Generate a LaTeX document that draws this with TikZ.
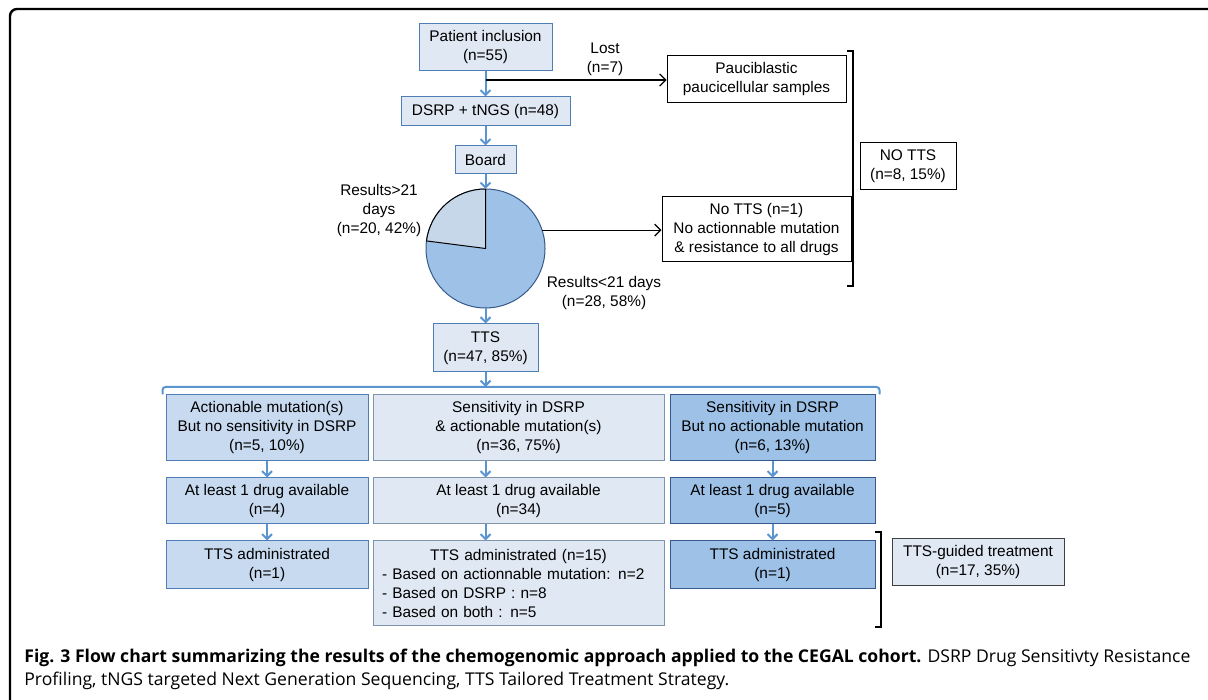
\documentclass[tikz,border=0pt]{standalone}
\usepackage{fontspec}
\setmainfont{Liberation Sans}
\newfontfamily\capfont{Open Sans}
\usepackage{tikz}
\usetikzlibrary{shapes,positioning,arrows.meta}
\usepackage{xcolor}
\definecolor{boxlight}{HTML}{DFE8F3}
\definecolor{boxmid}{HTML}{C8DAF0}
\definecolor{boxdark}{HTML}{9EC2E7}
\definecolor{edgeblue}{HTML}{4F7DB5}
\definecolor{edgegray}{HTML}{7F93AD}
\definecolor{edgedark}{HTML}{35598A}
\definecolor{arrowblue}{HTML}{5B95D0}
\definecolor{pielight}{HTML}{C6D7EA}

\begin{document}
\begin{tikzpicture}[x=0.5pt,y=0.5pt]
    \tikzstyle{box} = [draw=edgeblue,fill=boxlight,rectangle,align=center,inner sep=1pt,line width=0.5pt,font=\fontsize{7.7pt}{9.5pt}\selectfont]
    \tikzstyle{plainbox} = [box,draw=black,fill=white]
    \tikzstyle{mylabel} = [align=center,inner sep=0pt,font=\fontsize{7.7pt}{9.5pt}\selectfont]
    \tikzstyle{flow} = [draw=arrowblue,line width=1pt,-{Straight Barb[length=2.5pt,width=5pt]}]
    \tikzstyle{side} = [draw=black,line width=0.6pt,-{Straight Barb[length=3pt,width=6pt]}]
    \tikzstyle{bracket} = [draw=black,line width=1pt]
    \useasboundingbox (0,0) rectangle (1208,700);
    \draw[line width=1.2pt,rounded corners=3.5pt] (10,-5) -- (10,691) -- (1215,691);
    % main column
    \node[box,minimum width=66.5pt,minimum height=23.5pt] (incl) at (485.5,652.5) {Patient inclusion\\(n=55)};
    \node[box,minimum width=84.5pt,minimum height=14.5pt] (dsrp) at (485.5,588.5) {DSRP + tNGS (n=48)};
    \node[box,minimum width=30.5pt,minimum height=14pt] (board) at (485.5,540) {Board};
    \node[circle,draw=edgedark,fill=boxdark,line width=0.5pt,minimum size=59.5pt,inner sep=0pt,outer sep=0pt] (pie) at (485.5,451.5) {};
    \filldraw[fill=pielight,draw=black,line width=0.5pt] (pie.center) -- (pie.north) arc[start angle=90,end angle=172.7,radius=59.5] -- cycle;
    \node[box,minimum width=52.5pt,minimum height=24pt] (tts) at (485.5,352) {TTS\\(n=47, 85\%)};
    \node[mylabel] (lost) at (605,641) {Lost\\(n=7)};
    \node[mylabel] (slow) at (379,489) {Results>21\\days\\(n=20, 42\%)};
    \node[mylabel] (fast) at (604,407) {Results<21 days\\(n=28, 58\%)};
    % no TTS side
    \node[plainbox,minimum width=89.5pt,minimum height=23.5pt] (pauci) at (756.5,620.5) {Pauciblastic\\paucicellular samples};
    \node[plainbox,minimum width=94.5pt,minimum height=32.5pt] (nott) at (756.5,470.5) {No TTS (n=1)\\No actionnable mutation\\\& resistance to all drugs};
    \node[plainbox,minimum width=48pt,minimum height=23.5pt] (notts) at (908,533.5) {NO TTS\\(n=8, 15\%)};
    % three groups
    \node[box,fill=boxmid,minimum width=101pt,minimum height=33pt] (act) at (267,272) {Actionable mutation(s)\\But no sensitivity in DSRP\\(n=5, 10\%)};
    \node[box,draw=edgegray,minimum width=145.5pt,minimum height=33pt] (both) [right = 2pt of act] {Sensitivity in DSRP\\\& actionable mutation(s)\\(n=36, 75\%)};
    \node[box,fill=boxdark,draw=edgedark,minimum width=102.5pt,minimum height=33pt] (sens) [right = 2.5pt of both] {Sensitivity in DSRP\\But no actionable mutation\\(n=6, 13\%)};
    \node[box,fill=boxmid,minimum width=101pt,minimum height=23pt] (act2) [below = 8pt of act] {At least 1 drug available\\(n=4)};
    \node[box,draw=edgegray,minimum width=145.5pt,minimum height=23pt] (both2) [below = 8pt of both] {At least 1 drug available\\(n=34)};
    \node[box,fill=boxdark,draw=edgedark,minimum width=102.5pt,minimum height=23pt] (sens2) [below = 8pt of sens] {At least 1 drug available\\(n=5)};
    \node[box,fill=boxmid,minimum width=101pt,minimum height=24pt] (act3) [below = 8pt of act2] {TTS administrated\\(n=1)};
    \node[box,draw=edgegray,minimum width=145.5pt,minimum height=42.5pt,text width=136.5pt,align=left] (both3) [below = 8pt of both2] {\hfill TTS administrated (n=15)\hfill\null\\- Based on actionnable mutation: n=2\\- Based on DSRP : n=8\\- Based on both : n=5};
    \node[box,fill=boxdark,draw=edgedark,minimum width=102.5pt,minimum height=24pt] (sens3) [below = 8pt of sens2] {TTS administrated\\(n=1)};
    \node[box,draw=black!75,minimum width=86pt,minimum height=23.5pt] (guided) at (978,137.5) {TTS-guided treatment\\(n=17, 35\%)};
    % connectors
    \coordinate (split) at (485.5,620);
    \coordinate (fork) at (485.5,313);
    \draw[flow] (incl) -- (dsrp);
    \draw[side] (split) -- (split -| pauci.west);
    \draw[flow] (dsrp) -- (board);
    \draw[flow] (board) -- (pie);
    \draw[side] (pie.18) -- (pie.18 -| nott.west);
    \draw[flow] (pie) -- (tts);
    \draw[flow] (tts) -- (fork);
    \draw[draw=arrowblue,line width=1pt,rounded corners=1.5pt] ([xshift=-1.5pt]act.north west) -- ([xshift=-1.5pt]act.north west |- fork) -- ([xshift=2pt]sens.north east |- fork) -- ([xshift=2pt]sens.north east);
    \draw[flow] (act) -- (act2);
    \draw[flow] (act2) -- (act3);
    \draw[flow] (both.south -| fork) -- (both2.north -| fork);
    \draw[flow] (both2.south -| fork) -- (both3.north -| fork);
    \draw[flow] (sens) -- (sens2);
    \draw[flow] (sens2) -- (sens3);
    % brackets
    \draw[bracket] (847,649) -- (853,649) -- (853,414) -- (847,414);
    \draw[bracket] (875,168) -- (881,168) -- (881,73) -- (875,73);
    % caption
    \node[anchor=north west,inner sep=0pt,text width=583pt,align=justify,font=\capfont\fontsize{8.8pt}{11.5pt}\selectfont] (caption) at (24,51) {\textbf{Fig. 3 Flow chart summarizing the results of the chemogenomic approach applied to the CEGAL cohort.} DSRP Drug Sensitivty Resistance\linebreak Profiling, tNGS targeted Next Generation Sequencing, TTS Tailored Treatment Strategy.};
\end{tikzpicture}
\end{document}
